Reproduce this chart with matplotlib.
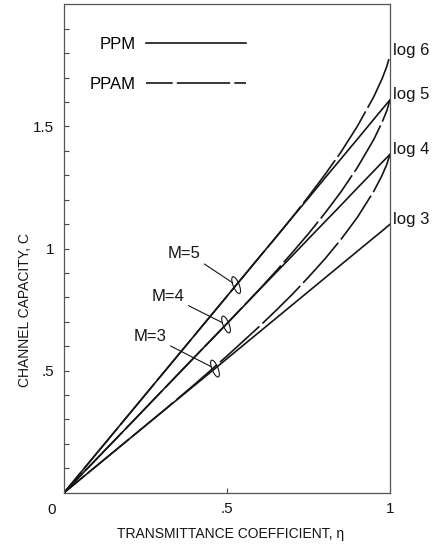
import numpy as np
import matplotlib.pyplot as plt
from matplotlib.lines import Line2D
from matplotlib.patches import Ellipse
from matplotlib.transforms import ScaledTranslation

plt.rcParams['font.family'] = ['Liberation Sans', 'DejaVu Sans']

# transmittance coefficient
eta = [0, 0.2, 0.3, 0.4, 0.5, 0.6, 0.65, 0.7, 0.75, 0.8, 0.85, 0.9, 0.95, 0.975, 0.99, 1.0]

# PPM (solid)
ppm_m3 = [0, 0.220, 0.330, 0.439, 0.549, 0.659, 0.714, 0.769, 0.824, 0.879, 0.934, 0.989, 1.044, 1.071, 1.088, 1.099]
ppm_m4 = [0, 0.277, 0.416, 0.555, 0.693, 0.832, 0.901, 0.970, 1.040, 1.109, 1.178, 1.248, 1.317, 1.352, 1.372, 1.386]
ppm_m5 = [0, 0.322, 0.483, 0.644, 0.805, 0.966, 1.046, 1.127, 1.207, 1.288, 1.368, 1.448, 1.529, 1.569, 1.593, 1.609]

# PPAM (dashed)
ppam_m3 = [0, 0.220, 0.330, 0.443, 0.560, 0.682, 0.746, 0.812, 0.883, 0.957, 1.038, 1.128, 1.234, 1.298, 1.344, 1.386]
ppam_m4 = [0, 0.277, 0.416, 0.555, 0.693, 0.834, 0.907, 0.983, 1.061, 1.144, 1.233, 1.332, 1.446, 1.515, 1.564, 1.609]
ppam_m5 = [0, 0.322, 0.483, 0.644, 0.805, 0.966, 1.046, 1.128, 1.213, 1.302, 1.396, 1.501, 1.621, 1.693, 1.745, 1.792]

m_labels = ['M=3', 'M=4', 'M=5']
m_text_pos = [(0.264, 0.640), (0.319, 0.805), (0.368, 0.978)]
m_mark_eta = [0.463, 0.497, 0.528]

end_labels = ['log 3', 'log 4', 'log 5', 'log 6']

ink = '#151515'
dash = (16, (32, 2.5))
lw = 1.2

fig = plt.figure(figsize=(4.37, 5.46), dpi=100)
ax = fig.add_axes([0.1465, 0.0976, 0.7460, 0.8945])

ax.plot(eta, ppm_m3, color=ink, lw=lw)
ax.plot(eta, ppm_m4, color=ink, lw=lw)
ax.plot(eta, ppm_m5, color=ink, lw=lw)
ax.plot(eta, ppam_m3, color=ink, lw=lw, linestyle=dash)
ax.plot(eta, ppam_m4, color=ink, lw=lw, linestyle=dash)
ax.plot(eta, ppam_m5, color=ink, lw=lw, linestyle=dash)

ax.set_xlim(0, 1)
ax.set_ylim(0, 2.0)

# end labels at eta = 1
ends = [ppm_m3[-1], ppm_m4[-1], ppm_m5[-1], ppam_m5[-1]]
for lab, c in zip(end_labels, ends):
    ax.annotate(lab, xy=(1, c), xytext=(3, 5), textcoords='offset pixels',
                ha='left', va='center', fontsize=12, color=ink, annotation_clip=False)

# M labels with leader lines and small loops
for lab, (tx, ty), me, ser in zip(m_labels, m_text_pos, m_mark_eta, [ppm_m3, ppm_m4, ppm_m5]):
    mc = np.interp(me, eta, ser)
    ax.annotate(lab, xy=(me, mc), xytext=(tx, ty), ha='center', va='center',
                fontsize=12, color=ink,
                arrowprops=dict(arrowstyle='-', lw=0.8, color=ink, relpos=(1, 0),
                                shrinkA=1, shrinkB=3))
    trans = fig.dpi_scale_trans + ScaledTranslation(me, mc, ax.transData)
    ax.add_patch(Ellipse((0, 0), 0.06, 0.18, angle=22, transform=trans,
                         fill=False, lw=0.8, color=ink))

# legend
handles = [Line2D([], [], color=ink, lw=lw),
           Line2D([], [], color=ink, lw=lw, linestyle=dash)]
ax.legend(handles, ['PPM', 'PPAM'], markerfirst=False, frameon=False, fontsize=12,
          handlelength=6.0, handletextpad=0.6, labelspacing=1.5, borderpad=0,
          borderaxespad=0, loc='upper left', bbox_to_anchor=(0.08, 0.933))

# ticks
ax.set_xticks([0.5, 1.0])
ax.set_xticklabels(['.5', '1'])
ax.set_yticks([0.5, 1.0, 1.5])
ax.set_yticklabels(['.5', '1', '1.5'])
ax.set_yticks(np.arange(0.1, 2.0, 0.1), minor=True)
ax.tick_params(axis='both', which='both', direction='in', length=3.5, width=0.8,
               labelsize=11, colors='#444444', labelcolor=ink)
ax.tick_params(axis='x', pad=7)
ax.tick_params(axis='y', pad=7)
ax.annotate('0', xy=(0, 0), xytext=(-12, -17), textcoords='offset pixels',
            ha='center', va='center', fontsize=11, color=ink, annotation_clip=False)

for s in ax.spines.values():
    s.set_color('#555555')
    s.set_linewidth(0.9)

ax.set_xlabel('TRANSMITTANCE COEFFICIENT, η', fontsize=10, color=ink)
ax.set_ylabel('CHANNEL CAPACITY, C', fontsize=10, color=ink)
ax.xaxis.set_label_coords(0.512, -0.070)
ax.yaxis.set_label_coords(-0.098, 0.374)

fig.savefig('out.png', dpi=100)
